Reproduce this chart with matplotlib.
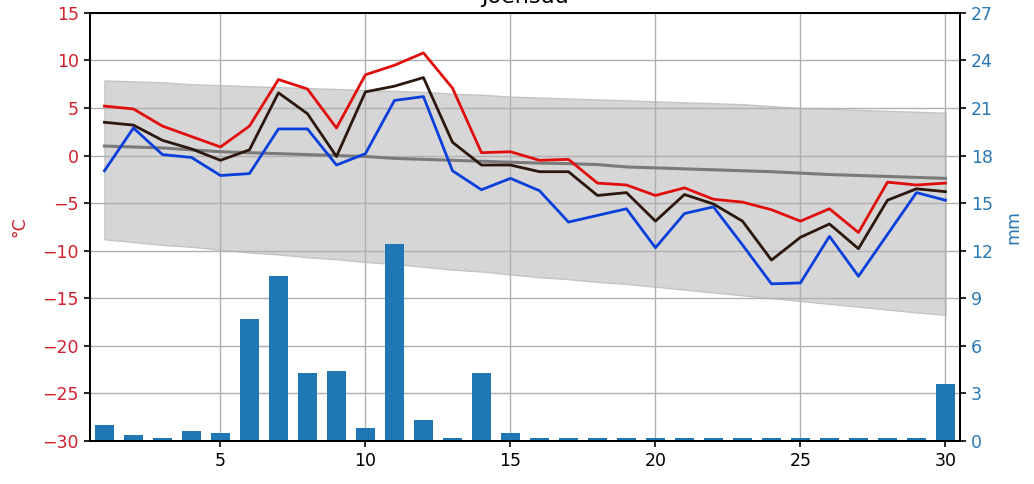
import numpy as np
import matplotlib
matplotlib.use("Agg")
import matplotlib.pyplot as plt

days = np.arange(1, 31)

t_max = [5.2, 4.9, 3.1, 2.0, 0.9, 3.1, 8.0, 7.0, 2.9, 8.5, 9.5, 10.8, 7.1, 0.3, 0.4,
         -0.5, -0.4, -2.9, -3.1, -4.2, -3.4, -4.6, -4.9, -5.7, -6.9, -5.6, -8.1, -2.8, -3.1, -2.9]
t_mean = [3.5, 3.2, 1.6, 0.7, -0.5, 0.6, 6.6, 4.4, -0.1, 6.7, 7.3, 8.2, 1.4, -1.0, -1.0,
          -1.7, -1.7, -4.2, -3.9, -6.9, -4.1, -5.1, -6.9, -11.0, -8.6, -7.2, -9.8, -4.7, -3.5, -3.8]
t_min = [-1.6, 2.9, 0.1, -0.2, -2.1, -1.9, 2.8, 2.8, -1.0, 0.2, 5.8, 6.2, -1.6, -3.6, -2.4,
         -3.7, -7.0, -6.3, -5.6, -9.7, -6.1, -5.4, -9.4, -13.5, -13.4, -8.5, -12.7, -8.3, -3.9, -4.7]

clim_mean = [1.0, 0.9, 0.8, 0.6, 0.4, 0.3, 0.2, 0.1, 0.0, -0.1, -0.3, -0.4, -0.5, -0.6, -0.7,
             -0.8, -0.85, -0.95, -1.2, -1.3, -1.4, -1.5, -1.6, -1.7, -1.85, -2.0, -2.1, -2.2, -2.3, -2.4]
clim_high = [7.9, 7.8, 7.7, 7.5, 7.4, 7.3, 7.2, 7.1, 7.0, 6.9, 6.8, 6.7, 6.5, 6.4, 6.2,
             6.1, 6.0, 5.9, 5.8, 5.7, 5.6, 5.5, 5.4, 5.2, 5.0, 4.9, 4.8, 4.7, 4.6, 4.5]
clim_low = [-8.8, -9.1, -9.4, -9.6, -9.9, -10.2, -10.4, -10.7, -10.9, -11.2, -11.4, -11.7, -12.0, -12.2, -12.5,
            -12.8, -13.0, -13.3, -13.5, -13.8, -14.1, -14.4, -14.7, -15.0, -15.3, -15.6, -15.9, -16.2, -16.5, -16.75]

precip = [1.0, 0.38, 0.17, 0.6, 0.5, 7.7, 10.4, 4.3, 4.4, 0.8, 12.4, 1.3, 0.17, 4.3, 0.5,
          0.15, 0.15, 0.15, 0.15, 0.15, 0.15, 0.15, 0.15, 0.15, 0.15, 0.15, 0.15, 0.15, 0.15, 3.6]

red_txt = "#d0202e"
blue_txt = "#2a78b4"
fs = 12.5

fig = plt.figure(figsize=(10.34, 4.84), dpi=100)
ax = fig.add_axes([0.0870, 0.0895, 0.8414, 0.8837])

ax.fill_between(days, clim_low, clim_high, facecolor="#d6d6d6", edgecolor="#c4c4c4", lw=1, zorder=1)
ax.plot(days, clim_mean, color="#7a7a7a", lw=2.2, zorder=3)
ax.plot(days, t_max, color="#e00d0d", lw=2, zorder=3)
ax.plot(days, t_mean, color="#2b170b", lw=2, zorder=3)
ax.plot(days, t_min, color="#0a3fdc", lw=2, zorder=3)

ax.set_xlim(0.5, 30.5)
ax.set_ylim(-30, 15)
ax.set_yticks(np.arange(-30, 16, 5))
ax.set_xticks([5, 10, 15, 20, 25, 30])
ax.grid(True, color="#b0b0b0", lw=1)
ax.set_axisbelow(False)
for gl in ax.get_xgridlines() + ax.get_ygridlines():
    gl.set_zorder(2)
ax.tick_params(axis="y", colors=red_txt, labelsize=fs, length=4.5, width=1.2)
ax.tick_params(axis="y", which="both", color="black")
ax.tick_params(axis="x", labelsize=fs, length=4.5, width=1.2)
ax.set_ylabel("°C", color=red_txt, fontsize=fs, labelpad=10)
ax.set_title("Joensuu", fontsize=16, pad=7)

ax2 = ax.twinx()
ax2.bar(days, precip, width=0.65, color="#1f77b4", zorder=2)
ax2.set_ylim(0, 27)
ax2.set_yticks(np.arange(0, 28, 3))
ax2.tick_params(axis="y", labelcolor=blue_txt, labelsize=fs, length=4.5, width=1.2, color="black")
ax2.set_ylabel("mm", color=blue_txt, fontsize=fs, labelpad=8)

for a in (ax, ax2):
    for s in a.spines.values():
        s.set_linewidth(1.4)

fig.savefig("out.png", dpi=100)
